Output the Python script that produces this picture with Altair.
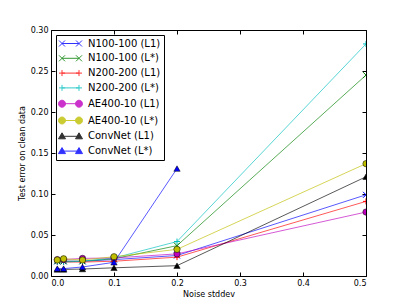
import json
import altair as alt
import pandas as pd

noise = [0.01, 0.02, 0.05, 0.1, 0.2, 0.5]
series = ["N100-100 (L1)", "N100-100 (L*)", "N200-200 (L1)", "N200-200 (L*)",
          "AE400-10 (L1)", "AE400-10 (L*)", "ConvNet (L1)", "ConvNet (L*)"]
values = {
    "N100-100 (L1)": [0.018, 0.018, 0.018, 0.020, 0.025, 0.099],
    "N100-100 (L*)": [0.018, 0.018, 0.018, 0.021, 0.037, 0.245],
    "N200-200 (L1)": [0.017, 0.017, 0.017, 0.018, 0.023, 0.091],
    "N200-200 (L*)": [0.017, 0.017, 0.018, 0.022, 0.042, 0.283],
    "AE400-10 (L1)": [0.020, 0.020, 0.0215, 0.022, 0.027, 0.078],
    "AE400-10 (L*)": [0.0195, 0.021, 0.0195, 0.0235, 0.0325, 0.137],
    "ConvNet (L1)": [0.008, 0.008, 0.0085, 0.010, 0.0126, 0.121],
    "ConvNet (L*)": [0.009, 0.009, 0.011, 0.0167, 0.131, None],
}
colors = ["#0000ff", "#008000", "#ff0000", "#00bfbf", "#bf00bf", "#bfbf00", "#000000", "#0000ff"]
kinds = ["x", "x", "plus", "plus", "circle", "circle", "tri", "tri"]

xticks = [0.0, 0.1, 0.2, 0.3, 0.4, 0.5]
yticks = [0.0, 0.05, 0.10, 0.15, 0.20, 0.25, 0.30]

rows = []
for s, k in zip(series, kinds):
    for xv, yv in zip(noise, values[s]):
        if yv is not None:
            rows.append({"x": xv, "y": yv, "series": s, "kind": k,
                         "filled": k in ("circle", "tri")})
df = pd.DataFrame(rows)

kind_domain = ["x", "plus", "circle", "tri"]
kind_range = ["M-1,-1L1,1M-1,1L1,-1", "M-1,0L1,0M0,-1L0,1", "circle", "triangle-up"]

# legend glyphs: a short line with a marker at each end (unit = 5px, shifted right by 1.2)
legend_paths_k = {
    "x": "M-0.5,0H2.9M-1.1,-0.6L0.1,0.6M-1.1,0.6L0.1,-0.6M2.3,-0.6L3.5,0.6M2.3,0.6L3.5,-0.6",
    "plus": "M-0.5,0H2.9M-1.1,0H0.1M-0.5,-0.6V0.6M2.3,0H3.5M2.9,-0.6V0.6",
    "circle": "M-0.5,0H2.9M-1.2,0A0.7,0.7 0 1,0 0.2,0A0.7,0.7 0 1,0 -1.2,0ZM2.2,0A0.7,0.7 0 1,0 3.6,0A0.7,0.7 0 1,0 2.2,0Z",
    "tri": "M-0.5,0H2.9M-0.5,-0.7L0.2,0.5L-1.2,0.5ZM2.9,-0.7L3.6,0.5L2.2,0.5Z",
}
legend_paths = [legend_paths_k[k] for k in kinds]

FONT = "DejaVu Sans"
xscale = alt.Scale(domain=[0, 0.5], nice=False, zero=False)
yscale = alt.Scale(domain=[0, 0.30], nice=False, zero=False)
color_scale = alt.Scale(domain=series, range=colors)
shape_scale = alt.Scale(domain=kind_domain, range=kind_range)

tick_common = dict(domain=False, tickSize=4, offset=-4, tickColor="black", tickWidth=1,
                   labelFont=FONT, labelFontSize=8, labelColor="black", grid=False,
                   titleFont=FONT, titleFontSize=8, titleFontWeight="normal", titleColor="black")

bottom_axis = alt.Axis(orient="bottom", values=xticks, format=".1f", labelPadding=3,
                       title="Noise stddev", titlePadding=3, **tick_common)
left_axis = alt.Axis(orient="left", values=yticks, format=".2f", labelPadding=3,
                     title="Test error on clean data", titlePadding=4, **tick_common)
top_axis = alt.Axis(orient="top", values=xticks, labels=False, title=None,
                    domain=False, tickSize=4, offset=-4, tickColor="black", grid=False)
right_axis = alt.Axis(orient="right", values=yticks, labels=False, title=None,
                      domain=False, tickSize=4, offset=-4, tickColor="black", grid=False)

shape_expr = f"{json.dumps(legend_paths)}[indexof({json.dumps(series)}, datum.value)]"

legend = alt.Legend(
    title=None, orient="none", legendX=5, legendY=5,
    labelFont=FONT, labelFontSize=10, labelColor="black",
    symbolSize=100, labelOffset=18, rowPadding=3.8, padding=3,
    strokeColor="black", fillColor="white",
    symbolStrokeWidth=1, symbolOpacity=0.8,
    symbolType=alt.ExprRef(expr=shape_expr),
    symbolFillColor=alt.ExprRef(expr="scale('color', datum.value)"),
)

base = alt.Chart(df)

lines = base.mark_line(strokeWidth=1, opacity=0.65, clip=True).encode(
    x=alt.X("x:Q", scale=xscale, axis=bottom_axis),
    y=alt.Y("y:Q", scale=yscale, axis=left_axis),
    color=alt.Color("series:N", scale=color_scale, legend=legend, sort=series),
)

pts_stroke = base.transform_filter("!datum.filled").mark_point(
    filled=False, size=36, strokeWidth=1, opacity=1, clip=True).encode(
    x=alt.X("x:Q", scale=xscale, axis=top_axis),
    y=alt.Y("y:Q", scale=yscale, axis=right_axis),
    stroke=alt.Stroke("series:N", scale=color_scale, legend=None),
    shape=alt.Shape("kind:N", scale=shape_scale, legend=None),
)

pts_fill = base.transform_filter("datum.filled").mark_point(
    filled=True, size=40, stroke="black", strokeWidth=0.5, opacity=1, clip=True).encode(
    x=alt.X("x:Q", scale=xscale, axis=None),
    y=alt.Y("y:Q", scale=yscale, axis=None),
    fill=alt.Fill("series:N", scale=color_scale, legend=None),
    shape=alt.Shape("kind:N", scale=shape_scale, legend=None),
)

chart = alt.layer(lines, pts_stroke, pts_fill).resolve_axis(
    x="independent", y="independent"
).properties(
    width=315, height=246,
    padding={"left": 10, "top": 18, "right": 5, "bottom": 0},
    background="white",
).configure_view(stroke="black", strokeWidth=1)

chart.save("out.html", embed_options={"renderer": "svg", "actions": False})
